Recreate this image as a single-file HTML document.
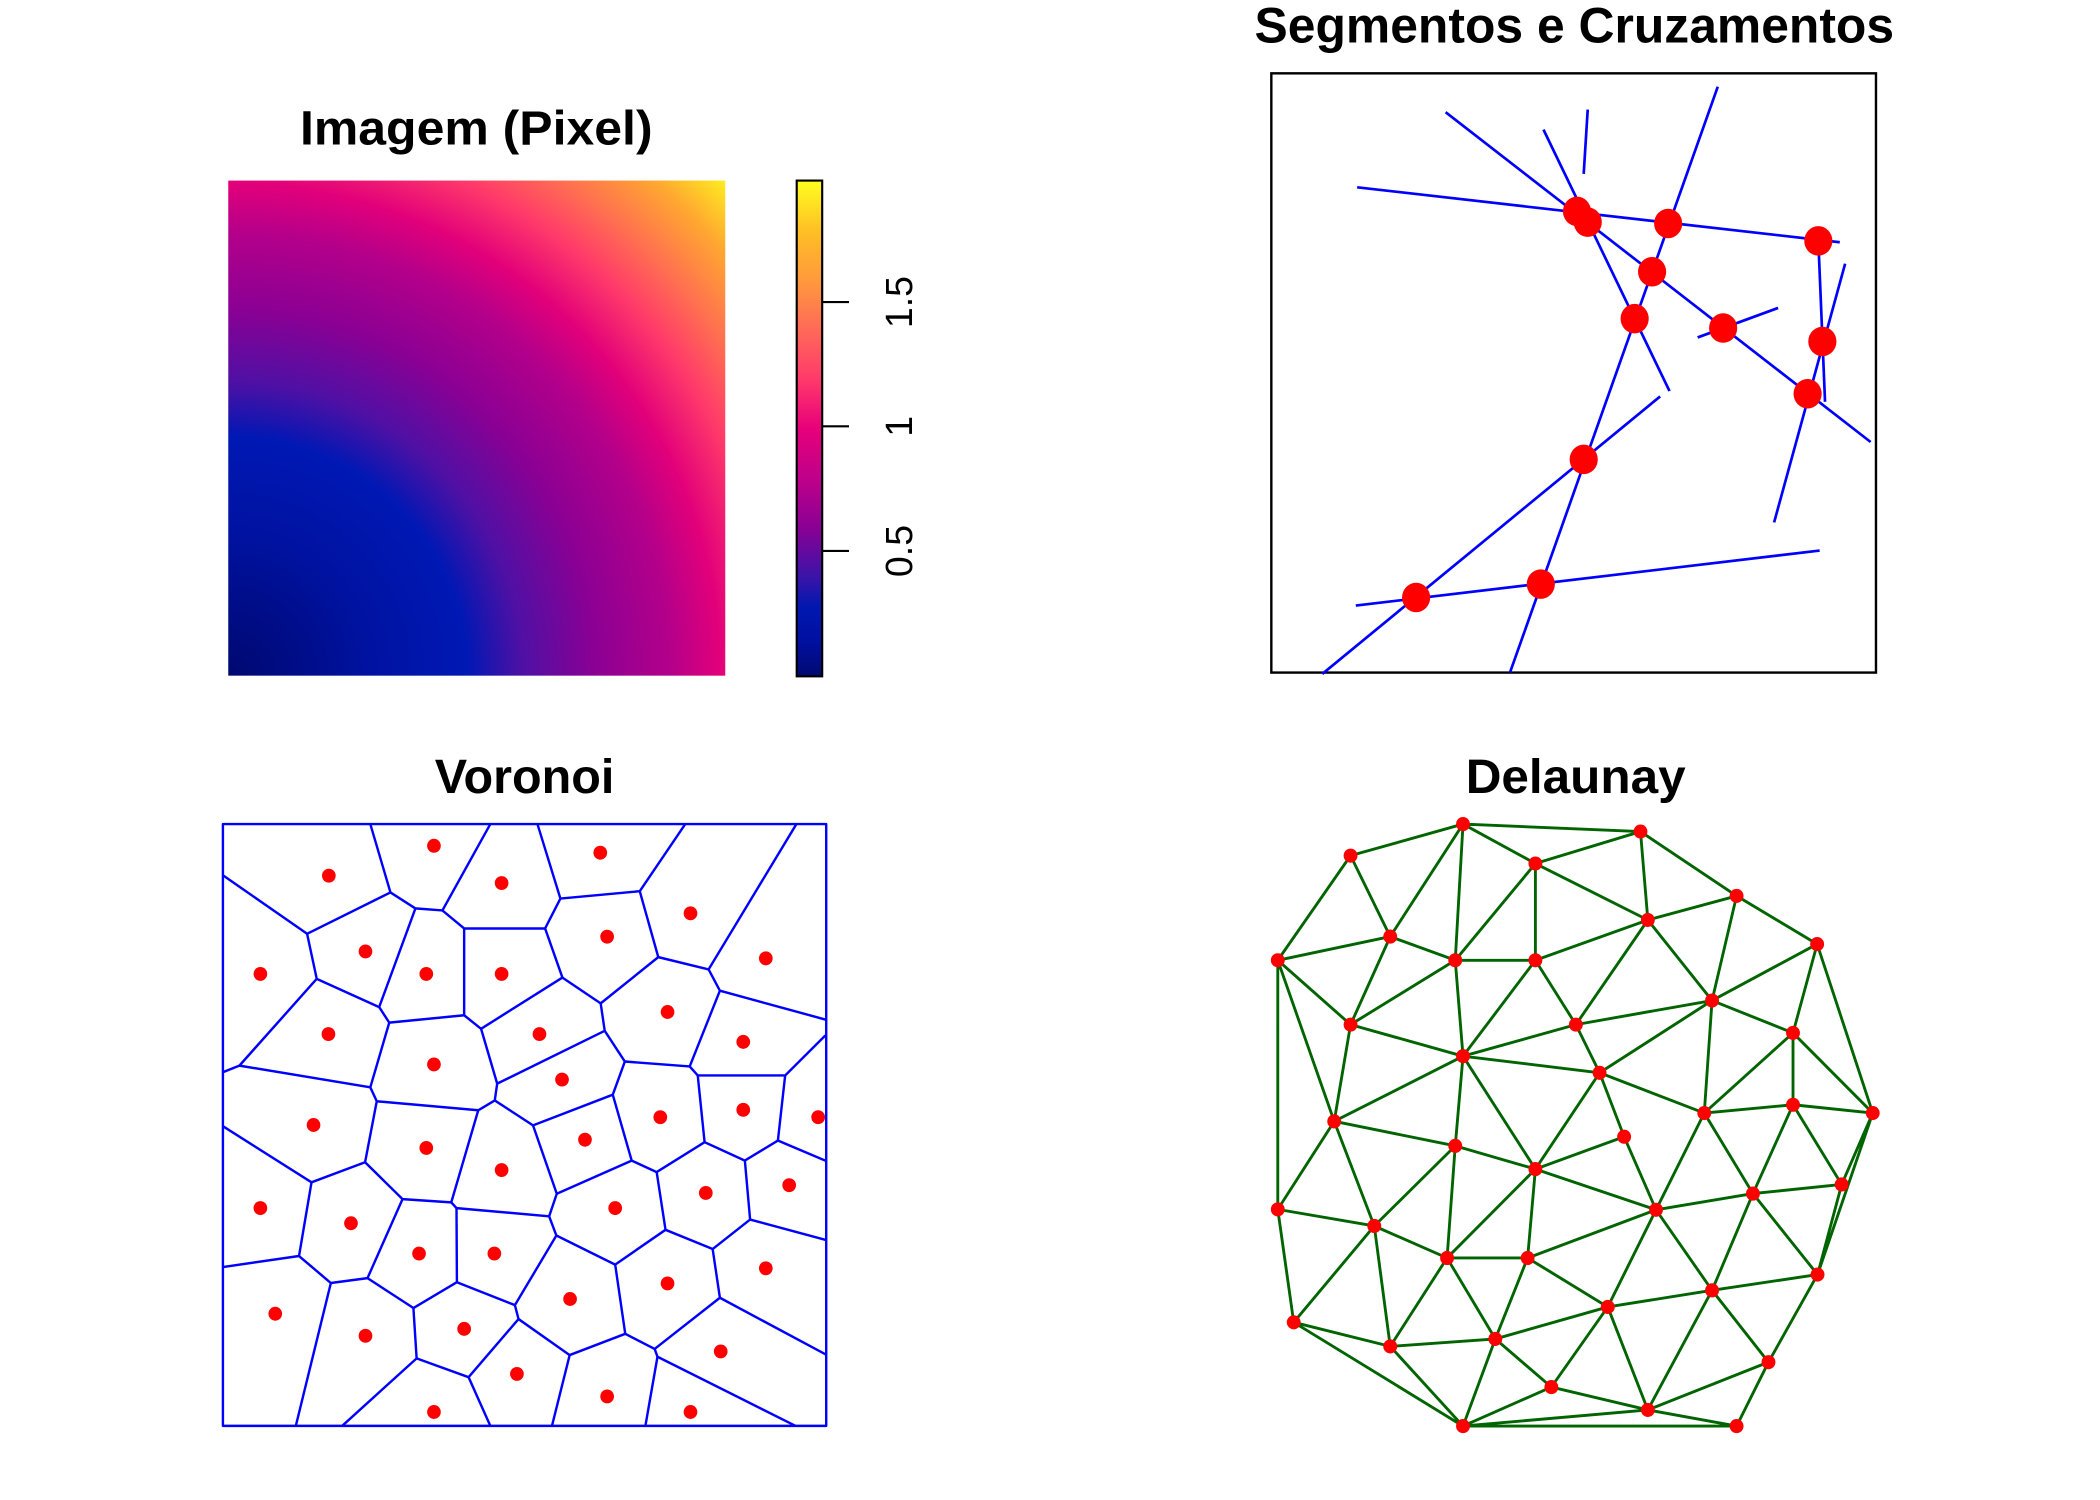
<!DOCTYPE html>
<html><head><meta charset="utf-8"><style>html,body{margin:0;padding:0;background:#fff}svg{display:block}</style></head>
<body>
<svg width="2100" height="1500" viewBox="0 0 2100 1500" xmlns="http://www.w3.org/2000/svg" font-family="Liberation Sans, Arial, sans-serif">
<defs>
<radialGradient id="img" gradientUnits="userSpaceOnUse" cx="171" cy="504.3" r="524">
<stop offset="0" stop-color="#000870"/>
<stop offset="0.2" stop-color="#0012a0"/>
<stop offset="0.34" stop-color="#0018b4"/>
<stop offset="0.42" stop-color="#5010a4"/>
<stop offset="0.52" stop-color="#8a0094"/>
<stop offset="0.63" stop-color="#b4008a"/>
<stop offset="0.70" stop-color="#e2007a"/>
<stop offset="0.78" stop-color="#ff3a6a"/>
<stop offset="0.85" stop-color="#ff7050"/>
<stop offset="0.93" stop-color="#ffa830"/>
<stop offset="1" stop-color="#ffee20"/>
</radialGradient>
<linearGradient id="cb" x1="0" y1="1" x2="0" y2="0">
<stop offset="0" stop-color="#000a70"/>
<stop offset="0.07" stop-color="#0010a0"/>
<stop offset="0.14" stop-color="#0018b0"/>
<stop offset="0.2" stop-color="#3a14a8"/>
<stop offset="0.3" stop-color="#8a0094"/>
<stop offset="0.4" stop-color="#c0008a"/>
<stop offset="0.5" stop-color="#e8007a"/>
<stop offset="0.6" stop-color="#ff3a6a"/>
<stop offset="0.7" stop-color="#ff6a58"/>
<stop offset="0.8" stop-color="#ff9a3c"/>
<stop offset="0.9" stop-color="#ffc024"/>
<stop offset="1" stop-color="#ffff20"/>
</linearGradient>
</defs>
<g transform="matrix(1.3407,0,0,1.3406,-1,-0.4)">

<!-- Panel 1 -->
<text x="356" y="108" font-size="36" font-weight="bold" text-anchor="middle" textLength="263" lengthAdjust="spacingAndGlyphs">Imagem (Pixel)</text>
<rect x="171" y="135" width="370.7" height="369.3" fill="url(#img)"/>
<rect x="595" y="135" width="19" height="369.8" fill="url(#cb)" stroke="#000" stroke-width="1.6"/>
<g stroke="#000" stroke-width="1.6">
<line x1="614" y1="225.6" x2="634" y2="225.6"/><line x1="614" y1="318.3" x2="634" y2="318.3"/><line x1="614" y1="411.3" x2="634" y2="411.3"/>
</g>
<g font-size="28" text-anchor="middle">
<text transform="translate(681,225.6) rotate(-90)">1.5</text>
<text transform="translate(681,318.3) rotate(-90)">1</text>
<text transform="translate(681,411.3) rotate(-90)">0.5</text>
</g>

<!-- Panel 2 -->
<text x="1175" y="32" font-size="37" font-weight="bold" text-anchor="middle" textLength="477" lengthAdjust="spacingAndGlyphs">Segmentos e Cruzamentos</text>
<rect x="949" y="55" width="451" height="447" fill="none" stroke="#000" stroke-width="1.8"/>
<g stroke="#0000ff" stroke-width="2" fill="none">
<line x1="1013" y1="140" x2="1373" y2="181"/>
<line x1="1079" y1="84" x2="1396" y2="330"/>
<line x1="1152" y1="97" x2="1246" y2="292"/>
<line x1="1185" y1="82" x2="1182" y2="130"/>
<line x1="1282" y1="65" x2="1127" y2="502"/>
<line x1="1239" y1="296" x2="987" y2="503"/>
<line x1="1012" y1="452" x2="1358" y2="411"/>
<line x1="1267" y1="252" x2="1327" y2="230"/>
<line x1="1357" y1="180" x2="1362" y2="300"/>
<line x1="1377" y1="197" x2="1324" y2="390"/>
</g>
<g fill="#ff0000">
<ellipse cx="1177" cy="158" rx="10.5" ry="11"/><ellipse cx="1185" cy="166" rx="10.5" ry="11"/>
<ellipse cx="1245" cy="167" rx="10.5" ry="11"/><ellipse cx="1357" cy="180" rx="10.5" ry="11"/>
<ellipse cx="1233" cy="203" rx="10.5" ry="11"/><ellipse cx="1220" cy="238" rx="10.5" ry="11"/>
<ellipse cx="1286" cy="245" rx="10.5" ry="11"/><ellipse cx="1360" cy="255" rx="10.5" ry="11"/>
<ellipse cx="1349" cy="294" rx="10.5" ry="11"/><ellipse cx="1182" cy="343" rx="10.5" ry="11"/>
<ellipse cx="1150" cy="436" rx="10.5" ry="11"/><ellipse cx="1057" cy="446" rx="10.5" ry="11"/>
</g>

<!-- Panel 3 Voronoi -->
<text x="392" y="592" font-size="36" font-weight="bold" text-anchor="middle" textLength="134" lengthAdjust="spacingAndGlyphs">Voronoi</text>
<g transform="translate(160.4,615) scale(0.3004,0.3054)">
<g stroke="#0000ff" stroke-width="6" fill="none" stroke-linejoin="round">
<rect x="22" y="0" width="1498" height="1470"/>
<polyline points="22,125 231,268 438,167 388,0"/>
<polyline points="438,167 500,206 567,211 686,0"/>
<polyline points="231,268 255,378 410,447 500,206"/>
<polyline points="567,211 621,255 822,255 860,182 803,0"/>
<polyline points="860,182 1057,164 1170,0"/>
<polyline points="1057,164 1103,325 1228,355 1446,0"/>
<polyline points="621,255 621,467 435,485 410,447"/>
<polyline points="621,467 663,500 865,375 822,255"/>
<polyline points="865,375 960,438 1103,325"/>
<polyline points="1228,355 1256,407 1520,478"/>
<polyline points="255,378 63,590 22,606"/>
<polyline points="63,590 388,643 435,485"/>
<polyline points="663,500 703,634 970,505 960,438"/>
<polyline points="703,634 697,675 656,699 404,677 388,643"/>
<polyline points="697,675 792,736 990,661 1020,580 970,505"/>
<polyline points="1020,580 1181,592 1256,407"/>
<polyline points="1181,592 1201,614 1418,614 1518,516"/>
<polyline points="1201,614 1218,777 1099,850 1037,822 990,661"/>
<polyline points="1218,777 1318,822 1400,773 1418,614"/>
<polyline points="1400,773 1520,823"/>
<polyline points="22,738 242,875 375,826 404,677"/>
<polyline points="375,826 468,916 589,924 656,699"/>
<polyline points="589,924 602,938 832,958 851,903 792,736"/>
<polyline points="851,903 1037,822"/>
<polyline points="1099,850 1121,991 1238,1038 1331,966 1318,822"/>
<polyline points="1331,966 1520,1016"/>
<polyline points="832,958 850,1005 996,1076 1121,991"/>
<polyline points="242,875 211,1055 22,1082"/>
<polyline points="211,1055 290,1121 381,1109 468,916"/>
<polyline points="602,938 603,1119 747,1175 850,1005"/>
<polyline points="381,1109 495,1182 603,1119"/>
<polyline points="290,1121 203,1470"/>
<polyline points="495,1182 503,1305 318,1470"/>
<polyline points="503,1305 632,1351 686,1470"/>
<polyline points="632,1351 756,1209 747,1175"/>
<polyline points="756,1209 883,1297 1021,1245 996,1076"/>
<polyline points="883,1297 839,1470"/>
<polyline points="1021,1245 1094,1282 1256,1157 1238,1038"/>
<polyline points="1256,1157 1520,1296"/>
<polyline points="1094,1282 1101,1301 1444,1470"/>
<polyline points="1101,1301 1071,1470"/>
</g>
<g fill="#ff0000">
<circle cx="285" cy="126" r="17"/><circle cx="546" cy="53" r="17"/><circle cx="959" cy="70" r="17"/><circle cx="714" cy="144" r="17"/>
<circle cx="1183" cy="218" r="17"/><circle cx="976" cy="275" r="17"/><circle cx="376" cy="311" r="17"/><circle cx="115" cy="366" r="17"/>
<circle cx="527" cy="366" r="17"/><circle cx="714" cy="366" r="17"/><circle cx="1370" cy="328" r="17"/><circle cx="1126" cy="459" r="17"/>
<circle cx="284" cy="513" r="17"/><circle cx="808" cy="513" r="17"/><circle cx="1314" cy="532" r="17"/><circle cx="546" cy="587" r="17"/>
<circle cx="864" cy="624" r="17"/><circle cx="247" cy="735" r="17"/><circle cx="527" cy="791" r="17"/><circle cx="1108" cy="716" r="17"/>
<circle cx="1314" cy="698" r="17"/><circle cx="1500" cy="716" r="17"/><circle cx="714" cy="845" r="17"/><circle cx="921" cy="771" r="17"/>
<circle cx="115" cy="938" r="17"/><circle cx="340" cy="975" r="17"/><circle cx="996" cy="938" r="17"/><circle cx="1221" cy="901" r="17"/>
<circle cx="1428" cy="882" r="17"/><circle cx="509" cy="1049" r="17"/><circle cx="696" cy="1049" r="17"/><circle cx="1370" cy="1085" r="17"/>
<circle cx="1126" cy="1122" r="17"/><circle cx="884" cy="1160" r="17"/><circle cx="152" cy="1196" r="17"/><circle cx="376" cy="1250" r="17"/>
<circle cx="621" cy="1233" r="17"/><circle cx="1258" cy="1288" r="17"/><circle cx="752" cy="1343" r="17"/><circle cx="976" cy="1398" r="17"/>
<circle cx="546" cy="1436" r="17"/><circle cx="1183" cy="1436" r="17"/>
</g>
</g>

<!-- Panel 4 Delaunay -->
<text x="1176" y="592" font-size="36" font-weight="bold" text-anchor="middle" textLength="164" lengthAdjust="spacingAndGlyphs">Delaunay</text>
<g transform="translate(940.7,608.2) scale(0.305,0.3097)">
<g stroke="#006400" stroke-width="7" fill="none">
<path d="M221,98L496,22 M221,98L318,293 M221,98L43,350 M496,22L930,40 M496,22L673,117 M496,22L318,293 M496,22L477,350
M930,40L673,117 M930,40L948,253 M930,40L1165,195 M1165,195L948,253 M1165,195L1362,311 M673,117L948,253 M673,117L673,350 M673,117L477,350
M948,253L673,350 M948,253L772,505 M948,253L1105,447 M1165,195L1105,447 M318,293L43,350 M318,293L477,350 M318,293L221,505
M43,350L221,505 M43,350L181,738 M43,350L43,950 M477,350L673,350 M477,350L221,505 M477,350L496,581 M673,350L772,505 M673,350L496,581
M772,505L1105,447 M772,505L830,621 M772,505L496,581 M1105,447L1362,311 M1105,447L1303,525 M1105,447L1086,718 M1105,447L830,621
M1362,311L1303,525 M1362,311L1498,718 M221,505L496,581 M221,505L181,738 M496,581L830,621 M496,581L181,738 M496,581L477,797 M496,581L673,853
M830,621L1086,718 M830,621L890,775 M830,621L673,853 M1303,525L1086,718 M1303,525L1303,698 M1303,525L1498,718
M1086,718L1303,698 M1086,718L968,951 M1086,718L1205,912 M1303,698L1498,718 M1303,698L1205,912 M1303,698L1422,890
M1498,718L1422,890 M1498,718L1363,1107 M890,775L673,853 M890,775L968,951 M181,738L477,797 M181,738L43,950 M181,738L279,990
M477,797L673,853 M477,797L457,1067 M477,797L279,990 M673,853L968,951 M673,853L457,1067 M673,853L654,1067
M1205,912L1422,890 M1205,912L968,951 M1205,912L1105,1145 M1205,912L1363,1107 M1422,890L1363,1107
M968,951L654,1067 M968,951L850,1185 M968,951L1105,1145 M43,950L279,990 M43,950L82,1222 M279,990L457,1067 M279,990L82,1222 M279,990L318,1280
M457,1067L654,1067 M457,1067L318,1280 M457,1067L575,1262 M654,1067L850,1185 M654,1067L575,1262
M1363,1107L1105,1145 M1363,1107L1243,1318 M1105,1145L850,1185 M1105,1145L948,1433 M1105,1145L1243,1318
M850,1185L575,1262 M850,1185L712,1378 M850,1185L948,1433 M82,1222L318,1280 M82,1222L496,1472 M318,1280L575,1262 M318,1280L496,1472
M575,1262L712,1378 M575,1262L496,1472 M712,1378L948,1433 M712,1378L496,1472 M1243,1318L948,1433 M1243,1318L1165,1472
M948,1433L496,1472 M948,1433L1165,1472 M496,1472L1165,1472"/>
</g>
<g fill="#ff0000">
<circle cx="496" cy="22" r="17"/><circle cx="930" cy="40" r="17"/><circle cx="221" cy="98" r="17"/><circle cx="673" cy="117" r="17"/>
<circle cx="1165" cy="195" r="17"/><circle cx="948" cy="253" r="17"/><circle cx="318" cy="293" r="17"/><circle cx="43" cy="350" r="17"/>
<circle cx="477" cy="350" r="17"/><circle cx="673" cy="350" r="17"/><circle cx="1362" cy="311" r="17"/><circle cx="1105" cy="447" r="17"/>
<circle cx="221" cy="505" r="17"/><circle cx="772" cy="505" r="17"/><circle cx="496" cy="581" r="17"/><circle cx="1303" cy="525" r="17"/>
<circle cx="830" cy="621" r="17"/><circle cx="1086" cy="718" r="17"/><circle cx="1303" cy="698" r="17"/><circle cx="1498" cy="718" r="17"/>
<circle cx="181" cy="738" r="17"/><circle cx="890" cy="775" r="17"/><circle cx="477" cy="797" r="17"/><circle cx="673" cy="853" r="17"/>
<circle cx="1205" cy="912" r="17"/><circle cx="1422" cy="890" r="17"/><circle cx="43" cy="950" r="17"/><circle cx="279" cy="990" r="17"/>
<circle cx="968" cy="951" r="17"/><circle cx="457" cy="1067" r="17"/><circle cx="654" cy="1067" r="17"/><circle cx="1363" cy="1107" r="17"/>
<circle cx="850" cy="1185" r="17"/><circle cx="1105" cy="1145" r="17"/><circle cx="82" cy="1222" r="17"/><circle cx="318" cy="1280" r="17"/>
<circle cx="575" cy="1262" r="17"/><circle cx="1243" cy="1318" r="17"/><circle cx="712" cy="1378" r="17"/><circle cx="948" cy="1433" r="17"/>
<circle cx="496" cy="1472" r="17"/><circle cx="1165" cy="1472" r="17"/>
</g>
</g>
</g>
</svg>
</body></html>
